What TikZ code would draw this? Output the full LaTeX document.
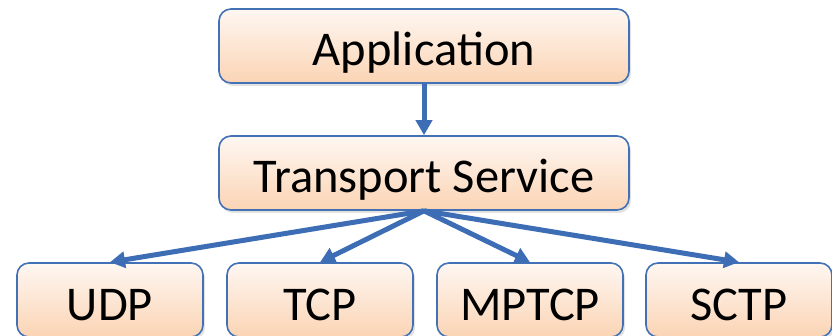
\documentclass[tikz,border=0pt]{standalone}
\usepackage{fontspec}
\setmainfont{Carlito}
\usepackage{tikz}
\usetikzlibrary{arrows.meta,shadows}

\definecolor{boxline}{RGB}{66,113,182}
\definecolor{boxtop}{RGB}{254,247,242}
\definecolor{boxbottom}{RGB}{251,212,180}
\definecolor{arrowblue}{RGB}{61,109,180}

\begin{document}
\begin{tikzpicture}[
    x=1pt, y=-1pt,
    layer/.style={rectangle, rounded corners=12pt, draw=boxline, line width=1.6pt,
                  top color=boxtop, bottom color=boxbottom, inner sep=0pt,
                  minimum width=410pt, minimum height=74pt,
                  text height=40pt, text depth=0pt,
                  drop shadow={shadow xshift=2pt, shadow yshift=-3pt, opacity=0.22},
                  font=\fontsize{48.5}{58}\selectfont},
    proto/.style={layer, minimum width=186pt},
    arr/.style={-{Triangle[length=15pt,width=16pt]}, line width=5pt, draw=arrowblue},
]
\useasboundingbox (0,0) rectangle (832,336);

% Layers
\node[layer] (app) at (424,46) {Application};
\node[layer] (ts) at (424,173) {Transport Service};

% Protocols
\node[proto] (udp) at (110,300) {UDP};
\node[proto] (tcp) at (320,300) {TCP};
\node[proto] (mptcp) at (530,300) {MPTCP};
\node[proto] (sctp) at (739,300) {SCTP};

% Arrows
\draw[arr] (app) -- (ts);
\foreach \p in {udp,tcp,mptcp,sctp}
    \draw[arr] (ts.south) -- (\p.north);
\end{tikzpicture}
\end{document}
